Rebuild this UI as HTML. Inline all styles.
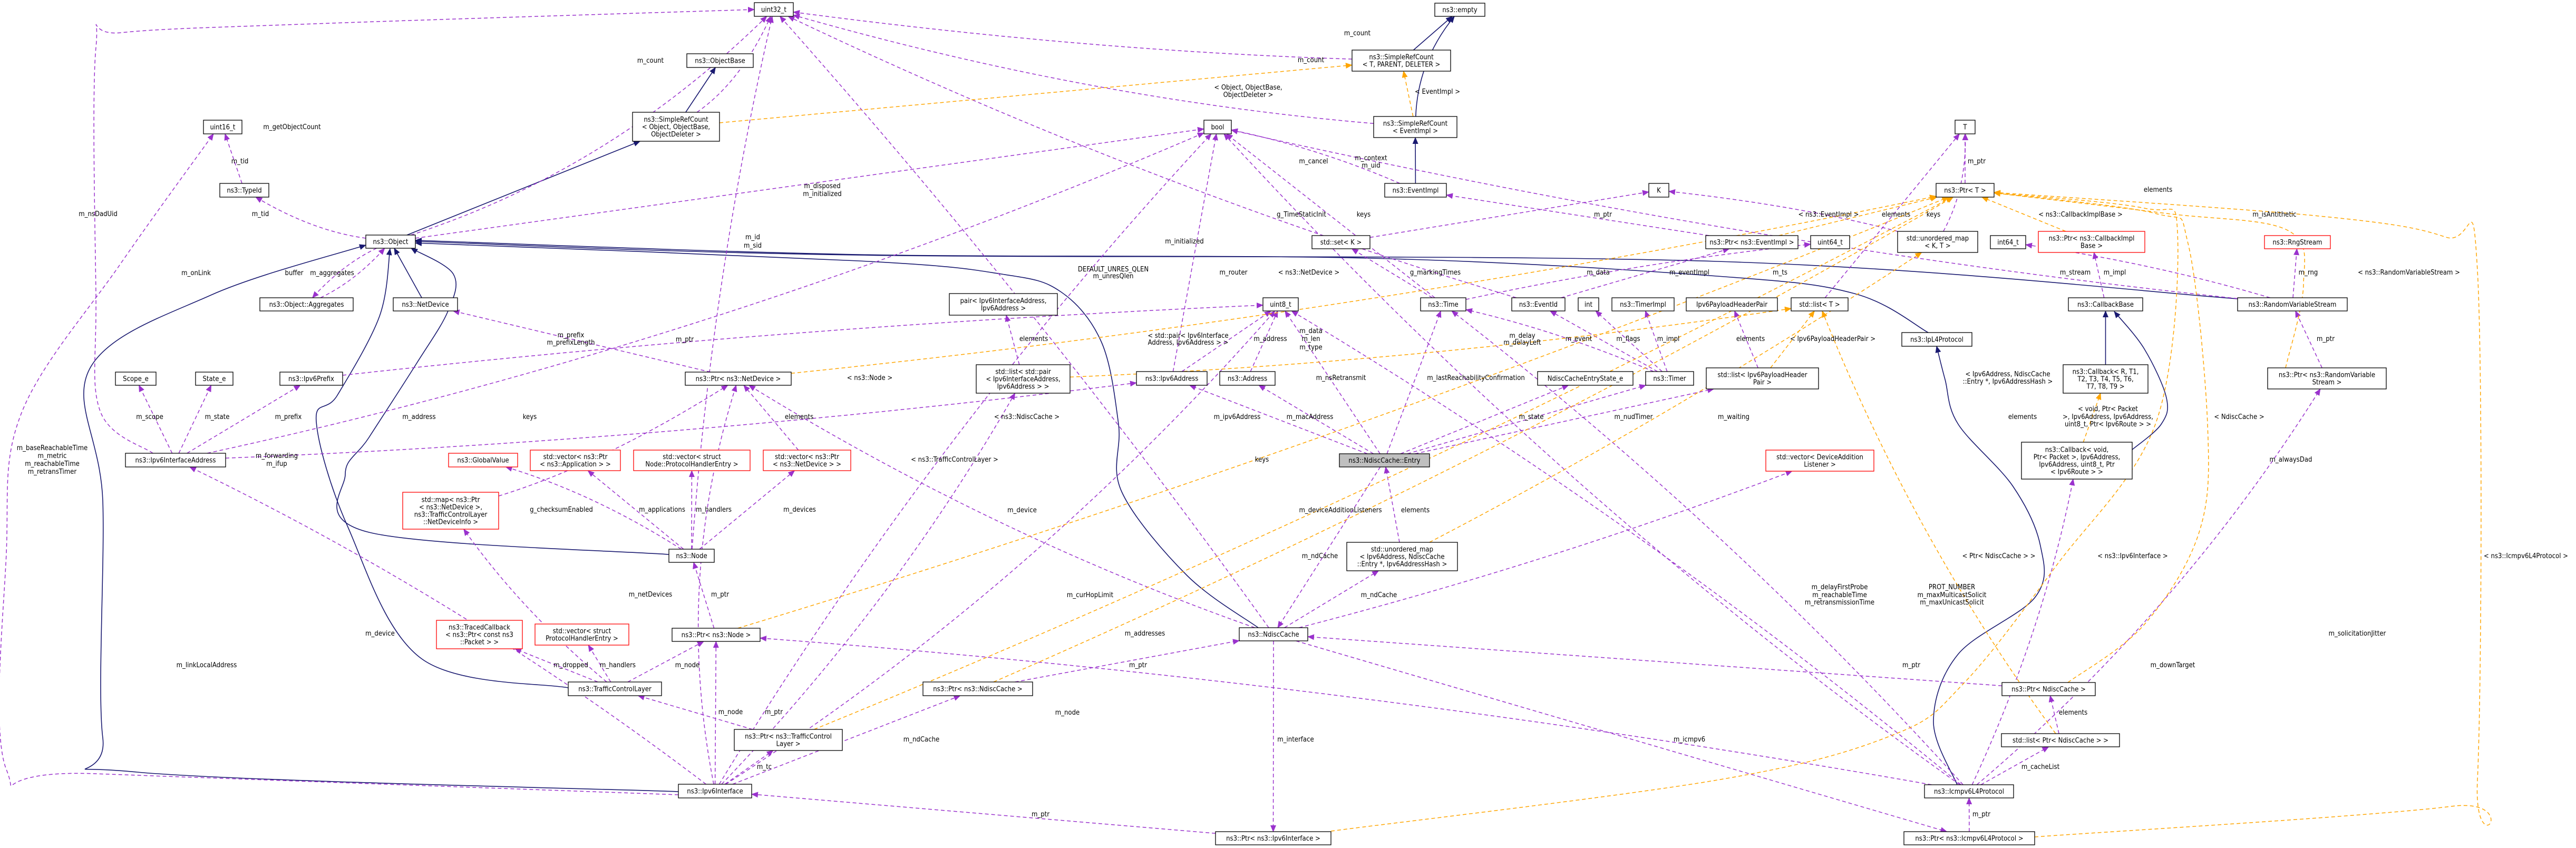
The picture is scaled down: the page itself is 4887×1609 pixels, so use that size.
<!DOCTYPE html>
<html><head><meta charset="utf-8"><style>
html,body{margin:0;padding:0;background:#fff;}
svg{display:block;}
text{font-family:"DejaVu Sans Condensed","Liberation Sans Narrow","Liberation Sans",sans-serif;font-size:13px;fill:#000;}
.b rect{fill:#fff;stroke:#000;stroke-width:1.3;}
.b.r rect{stroke:#ff0000;}
.b.g rect{fill:#bfbfbf;}
.lb text{text-anchor:middle;}
</style></head><body>
<svg id="s" width="4887" height="1609" viewBox="0 0 4887 1609" xmlns="http://www.w3.org/2000/svg">
<defs>
<marker id="mp" markerUnits="userSpaceOnUse" markerWidth="13" markerHeight="11" refX="12" refY="5.5" orient="auto"><path d="M0,0 L13,5.5 L0,11 z" fill="#9a32cd"/></marker>
<marker id="mo" markerUnits="userSpaceOnUse" markerWidth="13" markerHeight="11" refX="12" refY="5.5" orient="auto"><path d="M0,0 L13,5.5 L0,11 z" fill="#ffa500"/></marker>
<marker id="mn" markerUnits="userSpaceOnUse" markerWidth="13" markerHeight="11" refX="12" refY="5.5" orient="auto"><path d="M0,0 L13,5.5 L0,11 z" fill="#191970"/></marker>
</defs>
<g id="edges"></g>
<g class="lb">
<text x="554" y="245">m_getObjectCount</text>
<text x="1234" y="119">m_count</text>
<text x="455" y="310">m_tid</text>
<text x="494" y="410">m_tid</text>
<text x="186" y="410">m_nsDadUid</text>
<text x="372" y="522">m_onLink</text>
<text x="558" y="522">buffer</text>
<text x="630" y="522">m_aggregates</text>
<text x="1428" y="454">m_id</text><text x="1428" y="470">m_sid</text>
<text x="1560" y="357">m_disposed</text><text x="1560" y="372">m_initialized</text>
<text x="99" y="854">m_baseReachableTime</text><text x="99" y="869">m_metric</text><text x="99" y="884">m_reachableTime</text><text x="99" y="899">m_retransTimer</text>
<text x="284" y="795">m_scope</text>
<text x="412" y="795">m_state</text>
<text x="547" y="795">m_prefix</text>
<text x="795" y="795">m_address</text>
<text x="1005" y="795">keys</text>
<text x="1516" y="795">elements</text>
<text x="1083" y="640">m_prefix</text><text x="1083" y="654">m_prefixLength</text>
<text x="1299" y="648">m_ptr</text>
<text x="525" y="869">m_forwarding</text><text x="525" y="884">m_ifup</text>
<text x="1065" y="971">g_checksumEnabled</text>
<text x="1256" y="971">m_applications</text>
<text x="1354" y="971">m_handlers</text>
<text x="1517" y="971">m_devices</text>
<text x="1234" y="1132">m_netDevices</text>
<text x="1366" y="1132">m_ptr</text>
<text x="721" y="1206">m_device</text>
<text x="392" y="1266">m_linkLocalAddress</text>
<text x="1083" y="1266">m_dropped</text>
<text x="1172" y="1266">m_handlers</text>
<text x="1304" y="1266">m_node</text>
<text x="1386" y="1355">m_node</text>
<text x="1468" y="1355">m_ptr</text>
<text x="1450" y="1459">m_tc</text>
<text x="1650" y="721">&lt; ns3::Node &gt;</text>
<text x="2575" y="67">m_count</text>
<text x="2487" y="118">m_count</text>
<text x="2368" y="170">&lt; Object, ObjectBase,</text><text x="2368" y="184">ObjectDeleter &gt;</text>
<text x="2727" y="178">&lt; EventImpl &gt;</text>
<text x="2492" y="310">m_cancel</text>
<text x="2601" y="304">m_context</text><text x="2601" y="318">m_uid</text>
<text x="2469" y="411">g_TimeStaticInit</text>
<text x="2587" y="411">keys</text>
<text x="3041" y="411">m_ptr</text>
<text x="2247" y="462">m_initialized</text>
<text x="2112" y="515">DEFAULT_UNRES_QLEN</text><text x="2112" y="528">m_unresQlen</text>
<text x="2340" y="521">m_router</text>
<text x="2483" y="521">&lt; ns3::NetDevice &gt;</text>
<text x="2723" y="521">g_markingTimes</text>
<text x="3032" y="521">m_data</text>
<text x="3205" y="521">m_eventImpl</text>
<text x="1961" y="647">elements</text>
<text x="2254" y="641">&lt; std::pair&lt; Ipv6Interface</text><text x="2254" y="654">Address, Ipv6Address &gt; &gt;</text>
<text x="2410" y="647">m_address</text>
<text x="2487" y="632">m_data</text><text x="2487" y="647">m_len</text><text x="2487" y="663">m_type</text>
<text x="2888" y="641">m_delay</text><text x="2888" y="654">m_delayLeft</text>
<text x="2995" y="647">m_event</text>
<text x="3089" y="647">m_flags</text>
<text x="3165" y="647">m_impl</text>
<text x="2544" y="721">m_nsRetransmit</text>
<text x="2800" y="721">m_lastReachabilityConfirmation</text>
<text x="2347" y="795">m_ipv6Address</text>
<text x="2485" y="795">m_macAddress</text>
<text x="2905" y="795">m_state</text>
<text x="3099" y="795">m_nudTimer</text>
<text x="1948" y="795">&lt; ns3::NdiscCache &gt;</text>
<text x="1811" y="876">&lt; ns3::TrafficControlLayer &gt;</text>
<text x="2394" y="876">keys</text>
<text x="1939" y="972">m_device</text>
<text x="2543" y="972">m_deviceAdditionListeners</text>
<text x="2685" y="972">elements</text>
<text x="2504" y="1059">m_ndCache</text>
<text x="2068" y="1133">m_curHopLimit</text>
<text x="2616" y="1133">m_ndCache</text>
<text x="2172" y="1206">m_addresses</text>
<text x="2159" y="1266">m_ptr</text>
<text x="2025" y="1356">m_node</text>
<text x="1748" y="1407">m_ndCache</text>
<text x="2458" y="1407">m_interface</text>
<text x="3205" y="1407">m_icmpv6</text>
<text x="1974" y="1549">m_ptr</text>
<text x="3750" y="310">m_ptr</text>
<text x="4094" y="364">elements</text>
<text x="3469" y="411">&lt; ns3::EventImpl &gt;</text>
<text x="3597" y="411">elements</text>
<text x="3668" y="411">keys</text>
<text x="3947" y="411">&lt; ns3::CallbackImplBase &gt;</text>
<text x="4315" y="411">m_isAntithetic</text>
<text x="3377" y="521">m_ts</text>
<text x="3937" y="521">m_stream</text>
<text x="4012" y="521">m_impl</text>
<text x="4379" y="521">m_rng</text>
<text x="4570" y="521">&lt; ns3::RandomVariableStream &gt;</text>
<text x="3321" y="647">elements</text>
<text x="3477" y="647">&lt; Ipv6PayloadHeaderPair &gt;</text>
<text x="4412" y="647">m_ptr</text>
<text x="3809" y="714">&lt; Ipv6Address, NdiscCache</text><text x="3809" y="728">::Entry *, Ipv6AddressHash &gt;</text>
<text x="3289" y="795">m_waiting</text>
<text x="3837" y="795">elements</text>
<text x="3999" y="780">&lt; void, Ptr&lt; Packet</text><text x="3999" y="795">&gt;, Ipv6Address, Ipv6Address,</text><text x="3999" y="809">uint8_t, Ptr&lt; Ipv6Route &gt; &gt;</text>
<text x="4248" y="795">&lt; NdiscCache &gt;</text>
<text x="4346" y="876">m_alwaysDad</text>
<text x="3792" y="1059">&lt; Ptr&lt; NdiscCache &gt; &gt;</text>
<text x="4046" y="1059">&lt; ns3::Ipv6Interface &gt;</text>
<text x="4792" y="1059">&lt; ns3::Icmpv6L4Protocol &gt;</text>
<text x="3490" y="1118">m_delayFirstProbe</text><text x="3490" y="1133">m_reachableTime</text><text x="3490" y="1147">m_retransmissionTime</text>
<text x="3703" y="1118">PROT_NUMBER</text><text x="3703" y="1133">m_maxMulticastSolicit</text><text x="3703" y="1147">m_maxUnicastSolicit</text>
<text x="4472" y="1206">m_solicitationJitter</text>
<text x="3626" y="1266">m_ptr</text>
<text x="4122" y="1266">m_downTarget</text>
<text x="3933" y="1356">elements</text>
<text x="3871" y="1459">m_cacheList</text>
<text x="3759" y="1549">m_ptr</text>
</g>
<g id="nodes"></g>
</svg>
<script>
var N=[
["uint32",1431,5,74,26,["uint32_t"]],
["ObjectBase",1303,102,126,26,["ns3::ObjectBase"]],
["SRCObj",1200,213,165,55,["ns3::SimpleRefCount","< Object, ObjectBase,","ObjectDeleter >"]],
["uint16",386,228,73,26,["uint16_t"]],
["TypeId",417,348,93,26,["ns3::TypeId"]],
["Object",694,446,94,25,["ns3::Object"]],
["empty",2722,6,95,25,["ns3::empty"]],
["SRCT",2565,95,187,40,["ns3::SimpleRefCount","< T, PARENT, DELETER >"]],
["SRCEv",2606,221,158,40,["ns3::SimpleRefCount","< EventImpl >"]],
["bool",2284,228,52,26,["bool"]],
["EventImpl",2627,348,117,26,["ns3::EventImpl"]],
["K",3128,348,38,26,["K"]],
["T",3709,228,38,26,["T"]],
["PtrT",3673,348,110,26,["ns3::Ptr< T >"]],
["set",2489,447,110,25,["std::set< K >"]],
["PtrEv",3236,447,175,25,["ns3::Ptr< ns3::EventImpl >"]],
["uint64",3435,447,74,25,["uint64_t"]],
["umapKT",3600,439,152,40,["std::unordered_map","< K, T >"]],
["int64",3776,447,67,25,["int64_t"]],
["PtrCB",3867,439,202,40,["ns3::Ptr< ns3::CallbackImpl","Base >"],"r"],
["Rng",4296,447,125,25,["ns3::RngStream"],"r"],
["Aggregates",493,565,177,25,["ns3::Object::Aggregates"]],
["NetDevice",746,565,122,25,["ns3::NetDevice"]],
["pair",1801,557,205,41,["pair< Ipv6InterfaceAddress,","Ipv6Address >"]],
["uint8",2396,565,67,25,["uint8_t"]],
["Time",2695,565,86,25,["ns3::Time"]],
["EventId",2868,565,101,25,["ns3::EventId"]],
["int",2994,565,39,25,["int"]],
["TimerImpl",3058,565,118,25,["ns3::TimerImpl"]],
["IPHP",3199,565,173,25,["Ipv6PayloadHeaderPair"]],
["listT",3398,565,108,25,["std::list< T >"]],
["CallbackBase",3924,565,141,25,["ns3::CallbackBase"]],
["RVS",4245,565,208,25,["ns3::RandomVariableStream"]],
["IpL4",3608,631,133,26,["ns3::IpL4Protocol"]],
["Scope",219,706,77,25,["Scope_e"]],
["State",371,706,71,25,["State_e"]],
["Ipv6Prefix",531,706,119,25,["ns3::Ipv6Prefix"]],
["PtrND",1300,706,201,25,["ns3::Ptr< ns3::NetDevice >"]],
["listpair",1852,692,178,54,["std::list< std::pair","< Ipv6InterfaceAddress,","Ipv6Address > >"]],
["Ipv6Address",2156,705,134,26,["ns3::Ipv6Address"]],
["Address",2314,705,105,26,["ns3::Address"]],
["NCES",2917,705,181,26,["NdiscCacheEntryState_e"]],
["Timer",3122,705,91,26,["ns3::Timer"]],
["listIPHP",3237,698,213,40,["std::list< Ipv6PayloadHeader","Pair >"]],
["CallbackR",3914,692,161,54,["ns3::Callback< R, T1,","T2, T3, T4, T5, T6,","T7, T8, T9 >"]],
["PtrRVS",4302,698,225,40,["ns3::Ptr< ns3::RandomVariable","Stream >"]],
["Entry",2541,861,171,25,["ns3::NdiscCache::Entry"],"g"],
["I6IA",238,860,190,26,["ns3::Ipv6InterfaceAddress"]],
["GV",851,860,131,26,["ns3::GlobalValue"],"r"],
["vecApp",1006,854,171,39,["std::vector< ns3::Ptr","< ns3::Application > >"],"r"],
["vecPHE",1202,854,221,39,["std::vector< struct","Node::ProtocolHandlerEntry >"],"r"],
["vecND",1448,854,166,39,["std::vector< ns3::Ptr","< ns3::NetDevice > >"],"r"],
["vecDAL",3350,854,205,40,["std::vector< DeviceAddition","Listener >"],"r"],
["CbVoid",3835,839,210,70,["ns3::Callback< void,","Ptr< Packet >, Ipv6Address,","Ipv6Address, uint8_t, Ptr","< Ipv6Route > >"]],
["map",764,934,182,70,["std::map< ns3::Ptr","< ns3::NetDevice >,","ns3::TrafficControlLayer","::NetDeviceInfo >"],"r"],
["Node",1269,1042,86,25,["ns3::Node"]],
["umap",2555,1029,210,54,["std::unordered_map","< Ipv6Address, NdiscCache","::Entry *, Ipv6AddressHash >"]],
["TCB",828,1177,163,54,["ns3::TracedCallback","< ns3::Ptr< const ns3","::Packet > >"],"r"],
["vecPHE2",1015,1184,178,40,["std::vector< struct","ProtocolHandlerEntry >"],"r"],
["PtrNode",1275,1192,167,25,["ns3::Ptr< ns3::Node >"]],
["NdiscCache",2351,1191,130,25,["ns3::NdiscCache"]],
["PtrNC",1751,1294,208,26,["ns3::Ptr< ns3::NdiscCache >"]],
["TCL",1078,1294,177,26,["ns3::TrafficControlLayer"]],
["PtrNC2",3798,1295,177,25,["ns3::Ptr< NdiscCache >"]],
["PtrTCL",1393,1384,205,40,["ns3::Ptr< ns3::TrafficControl","Layer >"]],
["listPNC",3797,1392,224,25,["std::list< Ptr< NdiscCache > >"]],
["I6I",1287,1488,139,26,["ns3::Ipv6Interface"]],
["Icmp",3651,1489,169,25,["ns3::Icmpv6L4Protocol"]],
["PtrI6I",2306,1578,219,25,["ns3::Ptr< ns3::Ipv6Interface >"]],
["PtrIcmp",3612,1578,248,25,["ns3::Ptr< ns3::Icmpv6L4Protocol >"]]
];
var E=[
["SRCObj","ObjectBase","n",0],["Object","SRCObj","n",0],["SRCT","empty","n",0],["SRCEv","empty","n",-40],
["EventImpl","SRCEv","n",0],["NetDevice","Object","n",0],
["Node","Object","n",0,[[1269,1052],[700,1010],[655,900],[700,830],[790,690],[850,590],[860,520],[780,471]]],
["TCL","Object","n",0,[[1078,1305],[800,1250],[660,1000],[600,800],[640,750],[720,600],[740,472]]],
["I6I","Object","n",0,[[1287,1502],[260,1465],[195,1400],[195,950],[170,700],[400,560],[694,465]]],
["NdiscCache","Object","n",0,[[2387,1191],[2252,1092],[2128,933],[2122,805],[2090,650],[2013,554],[1900,520],[1629,495],[788,461]]],
["IpL4","Object","n",0,[[3658,631],[3518,557],[3258,524],[2600,490],[1629,483],[788,456]]],
["RVS","Object","n",0,[[4245,567],[3258,496],[1629,484],[788,458]]],
["CallbackR","CallbackBase","n",0],
["CbVoid","CallbackBase","n",0,[[4044,854],[4100,805],[4110,755],[4068,662],[4011,591]]],
["Icmp","IpL4","n",0,[[3713,1489],[3668,1369],[3715,1241],[3861,1133],[3871,1036],[3819,923],[3715,805],[3690,720],[3674,657]]],
["Object","uint32","p",100],["SRCObj","uint32","p",40],["SRCT","uint32","p",-30],["SRCEv","uint32","p",-60],
["I6I","uint16","p",0,[[1287,1508],[180,1468],[12,1460],[12,1050],[41,783],[229,500],[405,254]]],
["I6IA","uint32","p",0,[[290,860],[190,780],[182,560],[182,90],[230,62],[600,45],[1431,18]]],
["Node","uint32","p",-40],["TypeId","uint16","p",0],["Object","TypeId","p",-30],
["Object","bool","p",0],["Object","Aggregates","p",20],["Aggregates","Object","p",20],
["I6IA","Scope","p",0],["I6IA","State","p",0],["I6IA","Ipv6Prefix","p",0],["I6IA","Ipv6Address","p",40],
["I6IA","bool","p",100],["Ipv6Prefix","uint8","p",-30],["PtrND","NetDevice","p",0],["vecND","PtrND","p",0],
["map","PtrND","p",40],["Node","vecND","p",0],["Node","vecPHE","p",0],["Node","vecApp","p",0],["Node","GV","p",30],
["TCL","map","p",-30],["PtrNode","Node","p",0],["TCL","TCB","p",0],["TCL","vecPHE2","p",0],["TCL","PtrNode","p",0],
["PtrTCL","TCL","p",0],["I6I","PtrTCL","p",0],["I6I","PtrNode","p",0],["I6I","I6IA","p",60],["I6I","PtrND","p",-100],
["I6I","listpair","p",60],["I6I","uint8","p",100],["I6I","bool","p",-80],["I6I","PtrNC","p",0],
["NdiscCache","PtrND","p",-60],["Icmp","PtrNode","p",60],["NdiscCache","umap","p",0],["umap","Entry","p",0],
["Entry","NdiscCache","p",0],["NdiscCache","vecDAL","p",30],["NdiscCache","PtrI6I","p",0],["NdiscCache","PtrIcmp","p",0],
["PtrI6I","I6I","p",0],["PtrIcmp","Icmp","p",0],["PtrNC","NdiscCache","p",0],["PtrNC2","NdiscCache","p",0],
["listPNC","PtrNC2","p",0],["Icmp","listPNC","p",0],["Icmp","CbVoid","p",40],["Icmp","PtrRVS","p",80],
["Icmp","bool","p",-100],["Icmp","Time","p",60],["Icmp","uint8","p",60],
["Entry","uint8","p",0],["Entry","Time","p",0],["Entry","Ipv6Address","p",0],["Entry","Address","p",0],
["Entry","NCES","p",0],["Entry","Timer","p",0],["Entry","listIPHP","p",0],
["Time","uint64","p",-20],["Time","bool","p",0],["Time","set","p",0],["Timer","Time","p",20],["Timer","EventId","p",0],
["Timer","int","p",0],["Timer","TimerImpl","p",0],["EventId","PtrEv","p",0],["PtrEv","EventImpl","p",0],
["EventId","uint32","p",-60],["EventImpl","bool","p",20],["set","K","p",0],["umapKT","K","p",20],["umapKT","T","p",30],
["listT","T","p",0],["PtrT","T","p",0],["CallbackBase","PtrCB","p",0],["RVS","int64","p",20],["RVS","Rng","p",0],
["RVS","bool","p",-60],["PtrRVS","RVS","p",0],["listpair","pair","p",0],["listIPHP","IPHP","p",0],
["Address","uint8","p",0],["Ipv6Address","uint8","p",0],["Ipv6Address","bool","p",0],["NdiscCache","uint32","p",40],
["SRCObj","SRCT","o",0],["SRCEv","SRCT","o",0],["PtrND","PtrT","o",60],["PtrNode","PtrT","o",60],["PtrTCL","PtrT","o",60],
["PtrNC","PtrT","o",60],["PtrEv","PtrT","o",0],["PtrCB","PtrT","o",0],
["PtrRVS","PtrT","o",0,[[4336,698],[4370,540],[4340,437],[4110,405],[3783,366]]],
["PtrNC2","PtrT","o",0,[[3923,1295],[4068,1185],[4172,1010],[4188,805],[4151,462],[4089,405],[3783,366]]],
["PtrIcmp","PtrT","o",0,[[3860,1588],[4650,1530],[4700,1480],[4700,513],[4640,450],[4400,410],[3783,365]]],
["PtrI6I","PtrT","o",0,[[2525,1577],[3258,1480],[3590,1395],[3725,1297],[3902,1072],[4089,805],[4131,441],[4068,395],[3783,366]]],
["listpair","listT","o",40],["listIPHP","listT","o",0],
["listPNC","listT","o",-60],["umap","umapKT","o",30],["CbVoid","CallbackR","o",0]
];
var NS="http://www.w3.org/2000/svg",B={};
var ng=document.getElementById("nodes"),eg=document.getElementById("edges");
N.forEach(function(n){
 B[n[0]]={x:n[1],y:n[2],w:n[3],h:n[4]};
 var g=document.createElementNS(NS,"g");g.setAttribute("class","b"+(n[6]?" "+n[6]:""));
 var r=document.createElementNS(NS,"rect");
 r.setAttribute("x",n[1]);r.setAttribute("y",n[2]);r.setAttribute("width",n[3]);r.setAttribute("height",n[4]);
 g.appendChild(r);
 var L=n[5],lh=14,cy=n[2]+n[4]/2,y0=cy-(L.length-1)*lh/2+4.5;
 L.forEach(function(s,i){var t=document.createElementNS(NS,"text");
  t.setAttribute("x",n[1]+n[3]/2);t.setAttribute("y",y0+i*lh);t.setAttribute("text-anchor","middle");
  t.textContent=s;g.appendChild(t);});
 ng.appendChild(g);
});
function clip(b,p){var cx=b.x+b.w/2,cy=b.y+b.h/2,dx=p[0]-cx,dy=p[1]-cy;
 var s=Math.min(dx?(b.w/2)/Math.abs(dx):1e9,dy?(b.h/2)/Math.abs(dy):1e9);if(s>1)s=1;
 return [cx+dx*s,cy+dy*s];}
function f(p){return p[0].toFixed(1)+","+p[1].toFixed(1);}
var col={p:"#9a32cd",o:"#ffa500",n:"#191970"};
E.forEach(function(e){var a=B[e[0]],b=B[e[1]];if(!a||!b)return;var d;
 if(e[4]){var P=e[4].slice();
  d="M"+f(P[0]);
  for(var i=0;i<P.length-1;i++){var p0=P[i-1]||P[i],p1=P[i],p2=P[i+1],p3=P[i+2]||p2;
   var c1=[p1[0]+(p2[0]-p0[0])/6,p1[1]+(p2[1]-p0[1])/6],c2=[p2[0]-(p3[0]-p1[0])/6,p2[1]-(p3[1]-p1[1])/6];
   d+=" C"+f(c1)+" "+f(c2)+" "+f(p2);}
 } else {
 var ac=[a.x+a.w/2,a.y+a.h/2],bc=[b.x+b.w/2,b.y+b.h/2];
 var mx=(ac[0]+bc[0])/2,my=(ac[1]+bc[1])/2,dx=bc[0]-ac[0],dy=bc[1]-ac[1],l=Math.sqrt(dx*dx+dy*dy)||1;
 var c=[mx-dy/l*e[3],my+dx/l*e[3]];
 var s=clip(a,c),t=clip(b,c);
 d="M"+f(s)+" Q"+f(c)+" "+f(t);}
 var p=document.createElementNS(NS,"path");
 p.setAttribute("d",d);
 p.setAttribute("fill","none");p.setAttribute("stroke",col[e[2]]);p.setAttribute("stroke-width",e[2]=="n"?"1.6":"1.5");
 if(e[2]!="n")p.setAttribute("stroke-dasharray","7,5");
 p.setAttribute("marker-end","url(#m"+e[2]+")");eg.appendChild(p);
});
</script>
</body></html>
